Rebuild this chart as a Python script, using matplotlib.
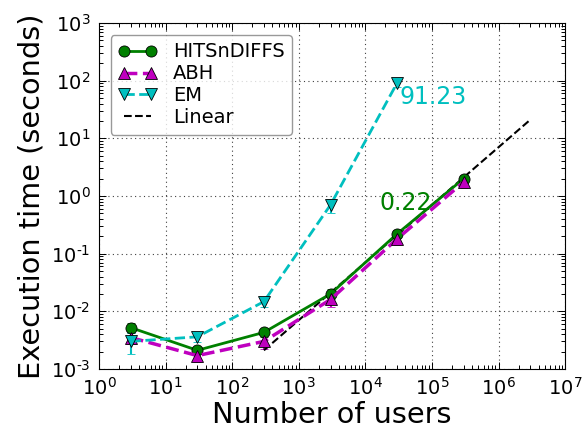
import matplotlib
matplotlib.use("Agg")
import matplotlib.pyplot as plt
from matplotlib.ticker import LogLocator, FuncFormatter, NullFormatter

users = [3, 30, 300, 3000, 30000, 300000]

hits_time = [0.0052, 0.0021, 0.0043, 0.020, 0.22, 2.0]
hits_err = [0.0010, 0.0003, 0.0007, 0.004, 0.035, 0.35]

abh_time = [0.0035, 0.0017, 0.0030, 0.016, 0.18, 1.75]
abh_err = [0.0008, 0.0004, 0.0008, 0.004, 0.04, 0.4]

em_users = users[:5]
em_time = [0.0030, 0.0036, 0.0147, 0.70, 91.23]
em_err = [0.0012, 0.0007, 0.003, 0.2, 15.0]

linear_users = [300, 3000, 30000, 300000, 3000000]
linear_time = [0.0021, 0.021, 0.21, 2.1, 21.0]


def pow10_label(v, pos):
    e = int(round(__import__("math").log10(v)))
    if e < 0:
        return r"$10^{\text{-}%d}$" % -e
    return r"$10^{%d}$" % e


fig = plt.figure(figsize=(5.82, 4.34), dpi=100)
ax = fig.add_axes([0.170, 0.150, 0.801, 0.797])

kw = dict(ms=8, mec="k", mew=0.6, capsize=3, elinewidth=1.5)
h = ax.errorbar(users, hits_time, yerr=hits_err, fmt="o-", color="g", lw=2,
                ecolor="g", **kw)
a = ax.errorbar(users, abh_time, yerr=abh_err, fmt="^--", color="m", lw=2.5,
                ecolor="m", **kw)
e = ax.errorbar(em_users, em_time, yerr=em_err, fmt="v--", color="c", lw=2,
                ecolor="c", **kw)
lin, = ax.plot(linear_users, linear_time, "k--", lw=1.5)

ax.annotate("%.2f" % em_time[-1], (em_users[-1], em_time[-1]),
            xytext=(2, -21), textcoords="offset pixels", ha="left",
            va="baseline", color="c", fontsize=17)
ax.annotate("%.2f" % hits_time[4], (users[4], hits_time[4]),
            xytext=(-18, 24), textcoords="offset pixels", ha="left",
            va="baseline", color="g", fontsize=17)

ax.set_xscale("log")
ax.set_yscale("log")
ax.set_xlim(1, 1e7)
ax.set_ylim(1e-3, 1e3)

for axis in (ax.xaxis, ax.yaxis):
    axis.set_major_locator(LogLocator(base=10, numticks=20))
    axis.set_minor_locator(LogLocator(base=10, subs=range(2, 10), numticks=20))
    axis.set_major_formatter(FuncFormatter(pow10_label))
    axis.set_minor_formatter(NullFormatter())

ax.grid(True, which="major", linestyle=(0, (1, 3)), color="0.25", lw=0.8)
ax.tick_params(which="both", direction="in", top=True, right=True,
               labelsize=14, pad=6)
ax.tick_params(which="major", length=5, width=0.7)
ax.tick_params(which="minor", length=3, width=0.7)

ax.set_xlabel("Number of users", fontsize=20.7, labelpad=1)
ax.set_ylabel("Execution time (seconds)", fontsize=20.7, labelpad=4)

leg = ax.legend([h.lines[0], a.lines[0], e.lines[0], lin],
                ["HITSnDIFFS", "ABH", "EM", "Linear"],
                loc="upper left", numpoints=2, fontsize=14, fancybox=True,
                labelspacing=0.15, handlelength=2.0, borderpad=0.4,
                handletextpad=0.8, borderaxespad=0.6)
leg.get_frame().set_edgecolor("0.5")

fig.savefig("out.png", dpi=100)
